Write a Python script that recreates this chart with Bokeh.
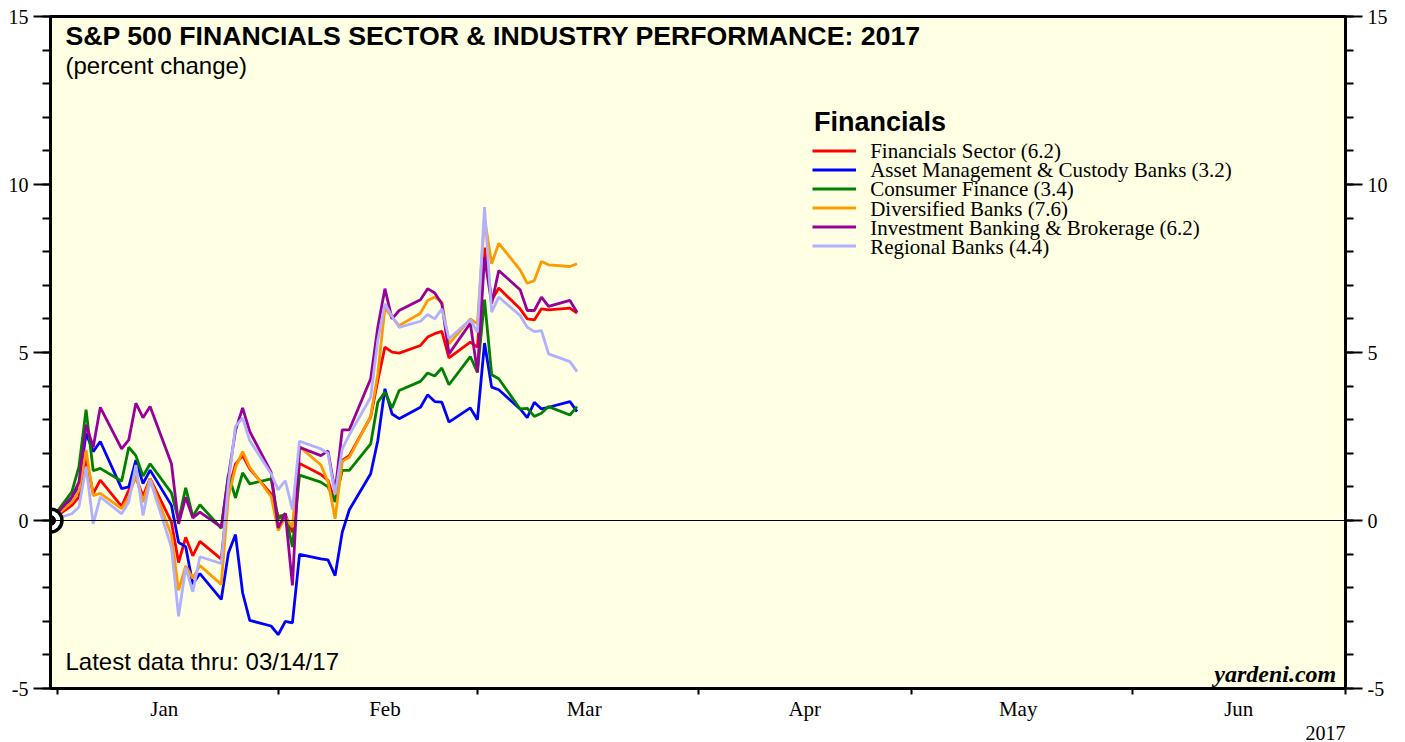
import datetime as dt
from bokeh.plotting import figure
from bokeh.models import Range1d, LinearAxis, FixedTicker, Span, Label, Legend, LegendItem, Title
from bokeh.embed import file_html
from bokeh.resources import INLINE

# ---------------- data (percent change since 2016-12-30) ----------------
dates = ["2016-12-30",
         "2017-01-02", "2017-01-03", "2017-01-04", "2017-01-05", "2017-01-06",
         "2017-01-09", "2017-01-10", "2017-01-11", "2017-01-12", "2017-01-13",
         "2017-01-16", "2017-01-17", "2017-01-18", "2017-01-19", "2017-01-20",
         "2017-01-23", "2017-01-24", "2017-01-25", "2017-01-26", "2017-01-27",
         "2017-01-30", "2017-01-31", "2017-02-01", "2017-02-02", "2017-02-03",
         "2017-02-06", "2017-02-07", "2017-02-08", "2017-02-09", "2017-02-10",
         "2017-02-13", "2017-02-14", "2017-02-15", "2017-02-16", "2017-02-17",
         "2017-02-20", "2017-02-21", "2017-02-22", "2017-02-23", "2017-02-24",
         "2017-02-27", "2017-02-28", "2017-03-01", "2017-03-02", "2017-03-03",
         "2017-03-06", "2017-03-07", "2017-03-08", "2017-03-09", "2017-03-10",
         "2017-03-13", "2017-03-14"]

financials_sector = [0,
    0.45, 0.7, 1.85, 0.8, 1.2,
    0.42, 0.9, 1.28, 0.73, 1.25,
    -0.05, -1.25, -0.5, -1.05, -0.62,
    -1.15, 0.9, 1.68, 1.93, 1.54,
    0.79, 0.12, 0.17, -0.35, 1.7,
    1.37, 1.19, 0.55, 1.79, 1.93,
    3.08, 4.17, 5.16, 5.01, 4.98,
    5.21, 5.46, 5.56, 5.63, 4.84,
    5.31, 5.16, 8.12, 6.55, 6.92,
    6.3, 6.0, 5.97, 6.3, 6.27,
    6.32, 6.17]

asset_mgmt = [0,
    0.65, 1.0, 2.6, 2.05, 2.35,
    0.95, 1.0, 1.8, 1.1, 1.5,
    0.45, -0.65, -0.78, -1.9, -1.58,
    -2.35, -0.97, -0.42, -2.15, -2.97,
    -3.14, -3.4, -3.0, -3.05, -1.01,
    -1.14, -1.17, -1.64, -0.35, 0.32,
    1.39, 2.38, 3.92, 3.17, 3.03,
    3.37, 3.74, 3.54, 3.52, 2.93,
    3.35, 3.0, 5.28, 3.97, 3.89,
    3.32, 3.06, 3.52, 3.32, 3.37,
    3.54, 3.24]

consumer_finance = [0,
    0.85, 1.6, 3.3, 1.48, 1.55,
    1.17, 2.18, 1.93, 1.32, 1.69,
    0.82, 0.0, 0.97, 0.12, 0.47,
    -0.23, 1.37, 0.67, 1.42, 1.09,
    1.24, 0.05, 0.2, -0.79, 1.35,
    1.14, 1.0, 0.58, 1.49, 1.49,
    2.28, 3.52, 3.82, 3.35, 3.87,
    4.14, 4.39, 4.3, 4.54, 4.04,
    4.88, 4.41, 6.57, 4.34, 4.22,
    3.32, 3.34, 3.1, 3.19, 3.39,
    3.14, 3.39]

diversified_banks = [0,
    0.55, 0.9, 2.1, 0.74, 0.81,
    0.35, 0.7, 1.35, 0.55, 1.25,
    -0.45, -2.08, -1.35, -1.72, -1.34,
    -1.9, 0.7, 1.58, 2.05, 1.58,
    0.72, -0.3, 0.1, -0.2, 2.2,
    1.65, 1.15, 0.05, 1.76, 1.88,
    3.1, 4.37, 6.33, 6.05, 5.8,
    6.17, 6.55, 6.65, 6.5, 5.26,
    6.0, 5.85, 9.0, 7.64, 8.25,
    7.46, 7.06, 7.14, 7.71, 7.61,
    7.56, 7.64]

investment_banking = [0,
    0.7, 1.15, 2.85, 2.18, 3.37,
    2.13, 2.4, 3.49, 3.06, 3.39,
    1.69, -0.1, 0.69, 0.08, 0.25,
    -0.2, 1.3, 2.68, 3.35, 2.65,
    1.44, -0.22, 0.22, -1.93, 2.18,
    1.93, 2.07, 0.85, 2.7, 2.7,
    4.22, 5.75, 6.9, 6.0, 6.25,
    6.57, 6.9, 6.77, 6.45, 4.96,
    5.87, 4.41, 7.84, 6.45, 7.44,
    6.87, 6.25, 6.25, 6.65, 6.37,
    6.55, 6.2]

regional_banks = [0,
    0.2, 0.4, 1.6, -0.1, 0.7,
    0.2, 0.55, 1.65, 0.15, 1.2,
    -0.8, -2.85, -1.4, -2.12, -1.08,
    -1.28, 1.1, 2.8, 3.05, 2.38,
    1.39, 0.91, 1.19, 0.32, 2.36,
    2.13, 2.0, 0.77, 2.13, 2.55,
    3.67, 5.36, 6.45, 6.07, 5.75,
    5.93, 6.13, 6.0, 6.3, 5.41,
    5.98, 5.6, 9.33, 6.2, 6.65,
    6.1, 5.75, 5.62, 5.65, 4.96,
    4.73, 4.43]

series_labels = ["Financials Sector (6.2)",
                 "Asset Management & Custody Banks (3.2)",
                 "Consumer Finance (3.4)",
                 "Diversified Banks (7.6)",
                 "Investment Banking & Brokerage (6.2)",
                 "Regional Banks (4.4)"]
series_colors = ["#FF0000", "#0000FF", "#008000", "#FF9900", "#990099", "#B0B0FF"]

month_names = ["Jan", "Feb", "Mar", "Apr", "May", "Jun"]
month_starts = ["2017-01-01", "2017-02-01", "2017-03-01", "2017-04-01",
                "2017-05-01", "2017-06-01", "2017-07-01"]
y_major = [-5, 0, 5, 10, 15]

# ---------------- coordinates: days since 2017-01-01 (end of day) ----------------
origin = dt.date(2017, 1, 1)
xs = [(dt.date.fromisoformat(d) - origin).days + 1 for d in dates]
bounds = [(dt.date.fromisoformat(d) - origin).days for d in month_starts]
label_days = [b + 15 for b in bounds[:-1]]          # month names sit at the 16th

p = figure(width=1400, height=742, output_backend="svg", toolbar_location=None,
           x_range=Range1d(xs[0], bounds[-1]), y_range=Range1d(-5, 15),
           x_axis_type=None, y_axis_type=None,
           min_border_left=50, min_border_right=55, min_border_top=16, min_border_bottom=54,
           background_fill_color="#FFFFE3", border_fill_color="white",
           outline_line_color="black", outline_line_width=3)

SERIF = "Liberation Serif"
SANS = "Liberation Sans"

def y_axis():
    return LinearAxis(ticker=FixedTicker(ticks=y_major, minor_ticks=list(range(-5, 16))),
                      major_label_overrides={v: str(v) for v in y_major},
                      major_tick_out=17, major_tick_in=0, minor_tick_out=8, minor_tick_in=0,
                      major_tick_line_width=2, minor_tick_line_width=2,
                      axis_line_width=3, major_label_standoff=5,
                      major_label_text_font=SERIF, major_label_text_font_size="20px",
                      major_label_text_color="black")

p.add_layout(y_axis(), "left")
p.add_layout(y_axis(), "right")

xaxis = LinearAxis(ticker=FixedTicker(ticks=label_days, minor_ticks=bounds),
                   major_label_overrides={d: n for d, n in zip(label_days, month_names)},
                   major_tick_out=0, major_tick_in=0, minor_tick_out=6, minor_tick_in=0,
                   minor_tick_line_width=2, axis_line_width=3, major_label_standoff=2,
                   major_label_text_font=SERIF, major_label_text_font_size="21px",
                   major_label_text_color="black")
p.add_layout(xaxis, "below")

p.add_layout(Title(text="2017", align="right", standoff=0,
                   text_font=SERIF, text_font_size="20px", text_font_style="normal",
                   text_color="black"), "below")

p.add_layout(Span(location=0, dimension="width", line_color="black", line_width=1))

all_series = [financials_sector, asset_mgmt, consumer_finance,
              diversified_banks, investment_banking, regional_banks]
items = []
for vals, col in zip(all_series, series_colors):
    r = p.line(xs, vals, line_color=col, line_width=2.8)
    items.append(LegendItem(label=" ", renderers=[r]))

# base-point marker (ring + dot)
p.scatter([xs[0]], [0], size=23, fill_color="white", line_color="black", line_width=3.5)
p.scatter([xs[0]], [0], size=10, fill_color="black", line_color="black")

# legend swatches (labels written beside them)
legend = Legend(items=items, location=(762, 433),
                label_text_font_size="1px", glyph_width=44, glyph_height=19, label_height=19,
                label_standoff=0, spacing=0, padding=0, margin=0,
                border_line_color=None, background_fill_alpha=0)
p.add_layout(legend)

p.add_layout(Label(x=106.3, y=11.85, text="Financials", text_color="black",
                   text_font=SANS, text_font_style="bold", text_font_size="27px",
                   text_baseline="middle"))
for i, lab in enumerate(series_labels):
    p.add_layout(Label(x=114.2, y=11.0 - 0.572 * i, text=lab, text_color="black",
                       text_font=SERIF, text_font_size="21px", text_baseline="middle"))

p.add_layout(Label(x=1.1, y=14.42, text="S&P 500 FINANCIALS SECTOR & INDUSTRY PERFORMANCE: 2017",
                   text_font=SANS, text_font_style="bold", text_font_size="26.7px",
                   text_color="black", text_baseline="middle"))
p.add_layout(Label(x=1.1, y=13.54, text="(percent change)", text_color="black",
                   text_font=SANS, text_font_size="24px", text_baseline="middle"))
p.add_layout(Label(x=1.1, y=-4.20, text="Latest data thru: 03/14/17", text_color="black",
                   text_font=SANS, text_font_size="24px", text_baseline="middle"))
p.add_layout(Label(x=179.7, y=-4.58, text="yardeni.com", text_align="right", text_color="black",
                   text_font=SERIF, text_font_style="bold italic", text_font_size="24px",
                   text_baseline="middle"))

open("out.html", "w").write(file_html(p, INLINE))
